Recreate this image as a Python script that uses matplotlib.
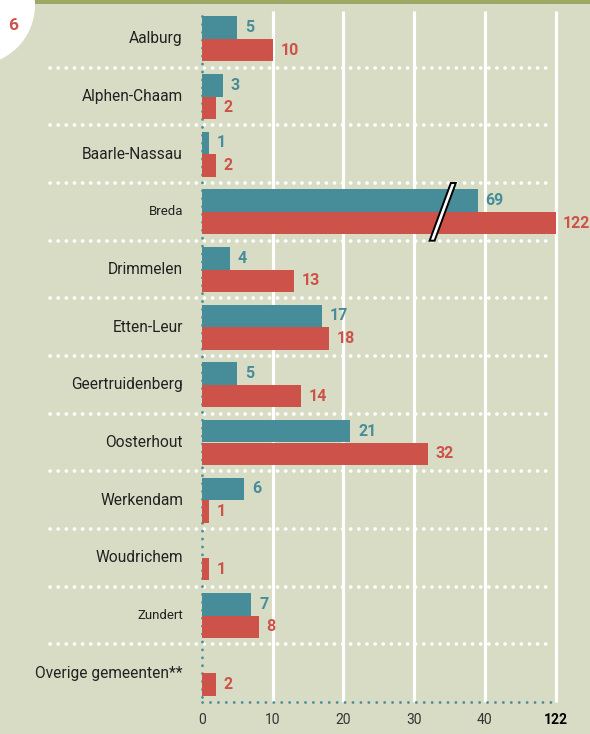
import numpy as np
import matplotlib
matplotlib.use("Agg")
import matplotlib.pyplot as plt
from matplotlib.patches import Circle, Rectangle, Polygon
from matplotlib.transforms import IdentityTransform

# data
gemeenten = ['Aalburg', 'Alphen-Chaam', 'Baarle-Nassau', 'Breda', 'Drimmelen',
             'Etten-Leur', 'Geertruidenberg', 'Oosterhout', 'Werkendam',
             'Woudrichem', 'Zundert', 'Overige gemeenten**']
teal_vals = [5, 3, 1, 69, 4, 17, 5, 21, 6, 0, 7, 0]
red_vals = [10, 2, 2, 122, 13, 18, 14, 32, 1, 1, 8, 2]
# broken axis: values past 40 are drawn shortened
drawn_len = {69: 39, 122: 50}
xticks = [0, 10, 20, 30, 40, 50]
xtick_labels = ['0', '10', '20', '30', '40', '122']
small_labels = ['Breda', 'Zundert']

BG = '#d8dcc4'
TEAL = '#478d99'
RED = '#cd524a'
GREEN = '#9ca864'
plt.rcParams['font.family'] = ['Roboto', 'DejaVu Sans']

fig = plt.figure(figsize=(5.9, 7.34), dpi=100, facecolor=BG)
ax = fig.add_axes([202 / 590, 32 / 734, 353.5 / 590, 692 / 734])
ax.set_facecolor(BG)
n = len(gemeenten)
ax.set_xlim(0, 50)
ax.set_ylim(n, 0)
for s in ax.spines.values():
    s.set_visible(False)

# white vertical gridlines
for x in xticks[1:]:
    ax.plot([x, x], [0.02, n], color='white', lw=2.3, zorder=1,
            solid_capstyle='butt', clip_on=False)

# dotted row separators
for i in range(1, n):
    ax.plot([-21.5, 49.2], [i, i], color='white', lw=2.6, clip_on=False,
            linestyle=(0, (0.05, 2.2)), dash_capstyle='round', zorder=2)

# teal dotted axes
ax.plot([0, 0], [0.1, n], color=TEAL, lw=2.0, linestyle=(0, (0.05, 2.8)),
        dash_capstyle='round', zorder=2, clip_on=False)
ax.plot([0, 50], [n, n], color=TEAL, lw=2.0, linestyle=(0, (0.05, 2.8)),
        dash_capstyle='round', zorder=2, clip_on=False)

bh = 0.39
y = np.arange(n) + 0.5
teal_len = [drawn_len.get(v, v) for v in teal_vals]
red_len = [drawn_len.get(v, v) for v in red_vals]
ax.barh(y - bh / 2, teal_len, height=bh, color=TEAL, zorder=3)
ax.barh(y + bh / 2, red_len, height=bh, color=RED, zorder=3)

for i in range(n):
    if teal_vals[i] > 0:
        ax.annotate(str(teal_vals[i]), (teal_len[i], y[i] - bh / 2), xytext=(5.5, 0),
                    textcoords='offset points', va='center', ha='left',
                    color=TEAL, fontsize=11.5, fontweight='bold', annotation_clip=False)
    if red_vals[i] > 0:
        ax.annotate(str(red_vals[i]), (red_len[i], y[i] + bh / 2), xytext=(5.5, 0),
                    textcoords='offset points', va='center', ha='left',
                    color=RED, fontsize=11.5, fontweight='bold', annotation_clip=False)
    fs = 9.5 if gemeenten[i] in small_labels else 11.2
    ax.text(-2.7, y[i], gemeenten[i], ha='right', va='center', fontsize=fs,
            color='#222222')

# axis break mark on Breda bars
bi = gemeenten.index('Breda')
brk = Polygon([(32.2, bi + 1), (32.9, bi + 1), (35.9, bi), (35.2, bi)],
              closed=True, facecolor='white', edgecolor='black', lw=1.4, zorder=4)
ax.add_patch(brk)

ax.set_xticks(xticks)
ax.set_xticklabels(xtick_labels, fontsize=10, color='#333333')
ax.get_xticklabels()[-1].set_fontweight('bold')
ax.get_xticklabels()[-1].set_color('black')
ax.tick_params(axis='x', length=0, pad=8)
ax.set_yticks([])

# header decorations
fig.patches.append(Rectangle((0, 730), 590, 4, transform=IdentityTransform(),
                             facecolor=GREEN, edgecolor='none', zorder=0))
fig.patches.append(Circle((-25, 729), 60, transform=IdentityTransform(),
                          facecolor='white', edgecolor='none', zorder=1))
fig.text(13 / 590, 1 - 25 / 734, '6', ha='center', va='center', color=RED,
         fontsize=12.5, fontweight='bold')

fig.savefig('out.png', dpi=100, facecolor=BG)
